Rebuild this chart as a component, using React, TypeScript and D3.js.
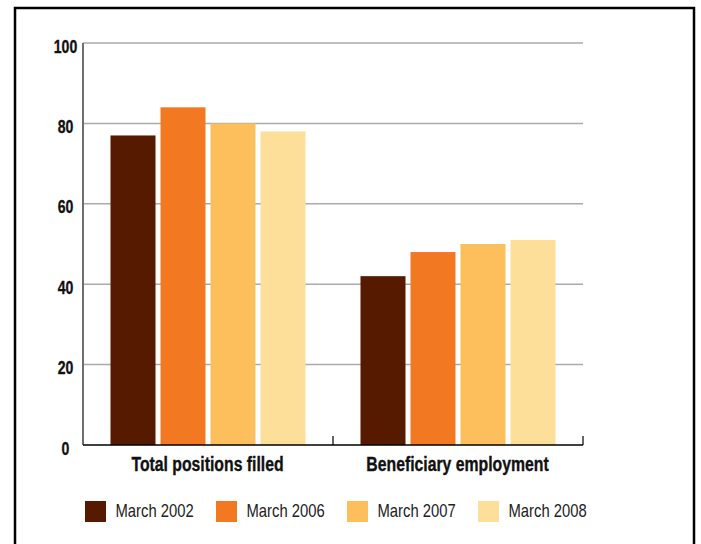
import React from "react";
import * as d3 from "d3";

const categories = ["Total positions filled", "Beneficiary employment"];
const seriesNames = ["March 2002", "March 2006", "March 2007", "March 2008"];
const march2002 = [77, 42];
const march2006 = [84, 48];
const march2007 = [80, 50];
const march2008 = [78, 51];
const seriesValues = [march2002, march2006, march2007, march2008];
const colors = ["#561a00", "#f37822", "#fcbf5b", "#fddf9a"];
const yTicks = [0, 20, 40, 60, 80, 100];

const W = 701;
const H = 544;
const FONT = "'Liberation Sans', Arial, sans-serif";

function CText(props: {
  x: number;
  y: number;
  size: number;
  sx: number;
  bold?: boolean;
  anchor?: "start" | "middle" | "end";
  fill?: string;
  children: React.ReactNode;
}) {
  return (
    <text
      transform={`translate(${props.x},${props.y}) scale(${props.sx},1)`}
      x={0}
      y={0}
      fontSize={props.size}
      fontWeight={props.bold ? "bold" : "normal"}
      textAnchor={props.anchor || "start"}
      fill={props.fill || "#111"}
      stroke={props.bold ? props.fill || "#111" : "none"}
      strokeWidth={props.bold ? 0.35 : 0}
    >
      {props.children}
    </text>
  );
}

export default function App() {
  const left = 83, right = 583, top = 43, bottom = 445;
  const x0 = d3.scaleBand<string>().domain(categories).range([left, right]).padding(0);
  const x1 = d3
    .scaleBand<string>()
    .domain(seriesNames)
    .range([0, x0.bandwidth()])
    .paddingInner(0.1)
    .paddingOuter(0.55);
  const y = d3.scaleLinear().domain([0, 100]).range([bottom, top]);

  return (
    <svg
      width={W}
      height={H}
      style={{ position: "absolute", left: 0, top: 0, background: "#fff" }}
      fontFamily={FONT}
    >
      <rect x={15} y={8} width={679} height={620} fill="#fff" stroke="#000" strokeWidth={2.5} />
      {yTicks.filter((t) => t > 0).map((t) => (
        <line key={t} x1={left} x2={right} y1={y(t)} y2={y(t)} stroke="#aaaaaa" strokeWidth={1.5} />
      ))}
      {categories.map((c, ci) => (
        <g key={c} transform={`translate(${x0(c)},0)`}>
          {seriesNames.map((s, si) => (
            <rect
              key={s}
              x={x1(s)}
              y={y(seriesValues[si][ci])}
              width={x1.bandwidth()}
              height={y(0) - y(seriesValues[si][ci])}
              fill={colors[si]}
            />
          ))}
          <CText x={x0.bandwidth() / 2 - 0.5} y={bottom + 25.5} size={20.5} sx={0.77} bold anchor="middle">
            {c}
          </CText>
        </g>
      ))}
      <line x1={left} x2={left} y1={top} y2={bottom} stroke="#6e6e6e" strokeWidth={2} />
      <line x1={left} x2={right} y1={bottom} y2={bottom} stroke="#000" strokeWidth={1.5} />
      {[...categories.slice(1).map((c) => x0(c) as number), right].map((tx, i) => (
        <line key={i} x1={tx} x2={tx} y1={bottom} y2={bottom - 9} stroke="#000" strokeWidth={1.2} />
      ))}
      {yTicks.map((t) => (
        <CText key={t} x={65.5} y={y(t) + 9.5} size={19} sx={0.74} bold anchor="middle">
          {t}
        </CText>
      ))}
      {seriesNames.map((s, i) => (
        <g key={s} transform={`translate(${85 + i * 131},501)`}>
          <rect x={0} y={0} width={21} height={21} fill={colors[i]} />
          <CText x={30.5} y={15.8} size={18.5} sx={0.8} fill="#222">
            {s}
          </CText>
        </g>
      ))}
    </svg>
  );
}
